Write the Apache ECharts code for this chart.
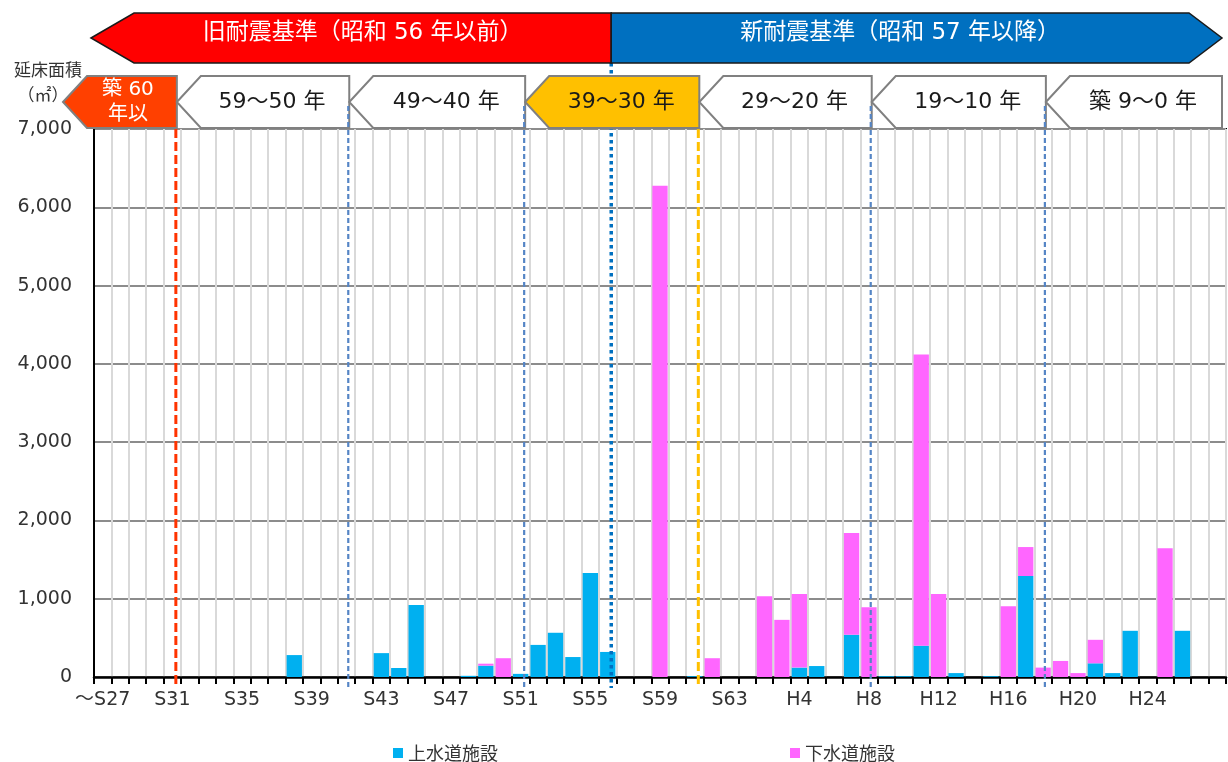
<!DOCTYPE html>
<html>
<head>
<meta charset="utf-8">
<script src="https://cdn.jsdelivr.net/npm/echarts@6/dist/echarts.min.js"></script>
<style>
  html, body { margin: 0; padding: 0; background: #fff; }
  #chart { width: 1228px; height: 762px; }
</style>
</head>
<body>
<div id="chart"></div>
<script>
// Construction year (Showa / Heisei) of each facility group
const categories = [
  '～S27', 'S28', 'S29', 'S30', 'S31', 'S32', 'S33', 'S34', 'S35', 'S36',
  'S37', 'S38', 'S39', 'S40', 'S41', 'S42', 'S43', 'S44', 'S45', 'S46',
  'S47', 'S48', 'S49', 'S50', 'S51', 'S52', 'S53', 'S54', 'S55', 'S56',
  'S57', 'S58', 'S59', 'S60', 'S61', 'S62', 'S63', 'H1', 'H2', 'H3',
  'H4', 'H5', 'H6', 'H7', 'H8', 'H9', 'H10', 'H11', 'H12', 'H13',
  'H14', 'H15', 'H16', 'H17', 'H18', 'H19', 'H20', 'H21', 'H22', 'H23',
  'H24', 'H25', 'H26', 'H27', 'H28'
];

// Total floor area (m²) of water supply facilities
const waterArea = [
  0, 0, 0, 0, 0, 0, 0, 0, 0, 0,
  0, 280, 0, 0, 0, 0, 305, 115, 920, 0,
  0, 15, 145, 0, 40, 410, 565, 255, 1330, 320,
  0, 0, 0, 0, 10, 0, 0, 0, 0, 0,
  120, 140, 0, 540, 0, 10, 10, 400, 0, 50,
  0, 10, 0, 1290, 0, 0, 0, 175, 50, 590,
  0, 0, 590, 0, 0
];

// Total floor area (m²) of sewerage facilities
const sewerArea = [
  0, 0, 0, 0, 0, 0, 0, 0, 0, 0,
  0, 0, 0, 0, 0, 0, 0, 0, 0, 0,
  0, 0, 25, 240, 0, 0, 0, 0, 0, 0,
  0, 0, 6275, 0, 0, 240, 0, 0, 1030, 730,
  940, 0, 0, 1300, 890, 0, 0, 3720, 1060, 0,
  0, 0, 905, 370, 120, 205, 50, 300, 0, 0,
  0, 1645, 0, 0, 0
];

const seriesNames = ['上水道施設', '下水道施設'];

// Age-band dividers, in category units along the year axis
const dividerPos = [4.7, 14.6, 24.7, 29.7, 34.7, 44.6, 54.6];
const ageLabels = ['築 60\n年以', '59～50 年', '49～40 年', '39～30 年', '29～20 年', '19～10 年', '築 9～0 年'];
const eraLabels = ['旧耐震基準（昭和 56 年以前）', '新耐震基準（昭和 57 年以降）'];

const FONT = '"Noto Sans CJK JP", "Noto Sans", sans-serif';
const NUMFONT = '"DejaVu Sans", "Noto Sans CJK JP", sans-serif';
const chart = echarts.init(document.getElementById('chart'));

chart.setOption({
  animation: false,
  textStyle: { fontFamily: FONT },
  grid: {
    left: 94, right: 2, top: 129, bottom: 85,
    containLabel: false, outerBoundsMode: 'none',
    show: true, borderColor: '#000', borderWidth: 2
  },
  legend: {
    data: seriesNames,
    left: 388, top: 739,
    icon: 'rect', itemWidth: 10, itemHeight: 10, itemGap: 292,
    textStyle: { fontSize: 18, color: '#333', fontFamily: FONT }
  },
  xAxis: [
    {
      type: 'category',
      data: categories,
      boundaryGap: true,
      axisLine: { lineStyle: { color: '#000', width: 2.5 } },
      axisTick: { show: true, interval: 0, length: 7, lineStyle: { color: '#000', width: 2 } },
      axisLabel: {
        interval: idx => idx % 4 === 0 && idx <= 60,
        fontSize: 19, color: '#333', margin: 14, fontFamily: NUMFONT
      },
      splitLine: { show: true, interval: 0, lineStyle: { color: '#d9d9d9', width: 2 } }
    },
    { type: 'value', min: 0, max: categories.length, show: false }
  ],
  yAxis: {
    type: 'value',
    min: 0, max: 7000, interval: 1000,
    axisLine: { show: true, lineStyle: { color: '#000', width: 2 } },
    axisTick: { show: false },
    axisLabel: {
      fontSize: 19, color: '#333', margin: 22, fontFamily: NUMFONT,
      formatter: v => v.toLocaleString('en-US')
    },
    splitLine: { lineStyle: { color: '#8c8c8c', width: 2 } }
  },
  series: [
    {
      name: seriesNames[0], type: 'bar', stack: 'area', data: waterArea,
      barCategoryGap: '12%', itemStyle: { color: '#00B0F0' }
    },
    {
      name: seriesNames[1], type: 'bar', stack: 'area', data: sewerArea,
      barCategoryGap: '12%', itemStyle: { color: '#FF66FF' }
    }
  ]
});

// Header banners, age-band tags and divider lines, placed from the axis scales
const px = v => chart.convertToPixel({ xAxisIndex: 1 }, v);
const py = v => chart.convertToPixel({ yAxisIndex: 0 }, v);
const plotTop = py(7000), plotBottom = py(0);
const plotLeft = px(0), plotRight = px(categories.length);
const divX = dividerPos.map(px);

const g = [];

// era banners
const bTop = 13, bBot = 63, bMid = (bTop + bBot) / 2;
const splitX = divX[3];
g.push({
  type: 'polygon', z: 30,
  shape: { points: [[plotLeft - 3, bMid], [plotLeft + 40, bTop], [splitX, bTop], [splitX, bBot], [plotLeft + 40, bBot]] },
  style: { fill: '#FF0000', stroke: '#1a1a1a', lineWidth: 1.5 }
});
g.push({
  type: 'polygon', z: 30,
  shape: { points: [[splitX, bTop], [plotRight - 37, bTop], [plotRight - 4, bMid], [plotRight - 37, bBot], [splitX, bBot]] },
  style: { fill: '#0070C0', stroke: '#1a1a1a', lineWidth: 1.5 }
});
g.push({
  type: 'text', z: 31, x: (plotLeft + 40 + splitX) / 2 - 10, y: bMid - 5,
  style: { text: eraLabels[0], fill: '#fff', font: '23px ' + NUMFONT, textAlign: 'center', textVerticalAlign: 'middle' }
});
g.push({
  type: 'text', z: 31, x: (splitX + plotRight - 37) / 2, y: bMid - 5,
  style: { text: eraLabels[1], fill: '#fff', font: '23px ' + NUMFONT, textAlign: 'center', textVerticalAlign: 'middle' }
});

// age-band tags
const tTop = plotTop - 53, tBot = plotTop - 1, tMid = (tTop + tBot) / 2, tip = 24;
const tagFill = ['#FF4000', '#fff', '#fff', '#FFC000', '#fff', '#fff', '#fff'];
const tagText = ['#fff', '#1a1a1a', '#1a1a1a', '#1a1a1a', '#1a1a1a', '#1a1a1a', '#1a1a1a'];
const edges = [plotLeft - 31, divX[0], divX[1], divX[2], divX[4], divX[5], divX[6], plotRight - 4];
for (let k = 0; k < ageLabels.length; k++) {
  const x0 = k === 0 ? edges[0] : edges[k] + 1;
  const x1 = k === ageLabels.length - 1 ? edges[k + 1] : edges[k + 1] + 1;
  g.push({
    type: 'polygon', z: 20,
    shape: { points: [[x0, tMid], [x0 + tip, tTop], [x1, tTop], [x1, tBot], [x0 + tip, tBot]] },
    style: { fill: tagFill[k], stroke: '#808080', lineWidth: 2 }
  });
  const isFirst = k === 0;
  g.push({
    type: 'text', z: 21,
    x: isFirst ? (x0 + tip + x1) / 2 - 4 : (x0 + tip + x1) / 2 - 3,
    y: tMid,
    style: {
      text: ageLabels[k], fill: tagText[k],
      font: (isFirst ? '20px ' : '22px ') + NUMFONT,
      lineHeight: 25,
      textAlign: 'center', textVerticalAlign: 'middle'
    }
  });
}

// divider lines
const redLine = { stroke: '#FF3300', lineWidth: 3, lineDash: [9, 4] };
const blueDash = { stroke: '#5585C5', lineWidth: 2.2, lineDash: [5, 3] };
const blueDot = { stroke: '#0070C0', lineWidth: 3.5, lineDash: [3.5, 3.5] };
const yellowLine = { stroke: '#FFC000', lineWidth: 3, lineDash: [9, 4] };
const lineStyles = [redLine, blueDash, blueDash, blueDot, yellowLine, blueDash, blueDash];
divX.forEach((x, k) => {
  let y1 = tMid + 4, z = 25;
  if (k === 0 || k === 4) y1 = plotTop;
  if (k === 3) { y1 = bBot; z = 15; }
  g.push({
    type: 'line', z: z, silent: true,
    shape: { x1: x, y1: y1, x2: x, y2: plotBottom + 11 },
    style: Object.assign({}, lineStyles[k])
  });
});

// value-axis title
g.push({
  type: 'text', z: 10, x: 48, y: 70,
  style: { text: '延床面積', fill: '#333', font: '17px ' + FONT, textAlign: 'center', textVerticalAlign: 'middle' }
});
g.push({
  type: 'text', z: 10, x: 43, y: 95,
  style: { text: '（㎡）', fill: '#333', font: '17px ' + FONT, textAlign: 'center', textVerticalAlign: 'middle' }
});

chart.setOption({ graphic: { elements: g } });
</script>
</body>
</html>
